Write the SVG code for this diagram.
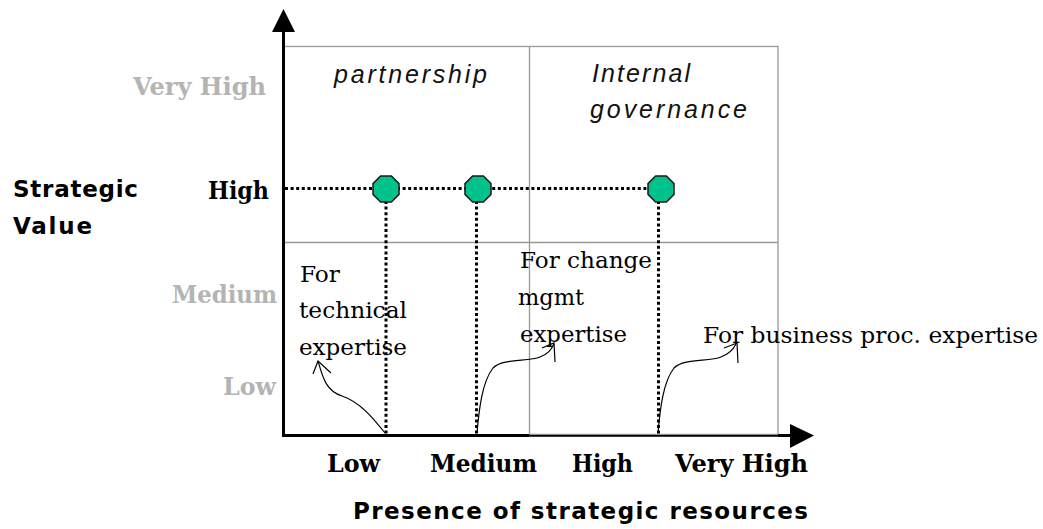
<svg xmlns="http://www.w3.org/2000/svg" xmlns:xlink="http://www.w3.org/1999/xlink" width="1043" height="529" viewBox="0 0 1043 529">
<style>
.bg{fill:#ffffff}
.grid{fill:none;stroke:#999999;stroke-width:1.3}
.axis{stroke:#000000;stroke-width:3;fill:none}
.head{fill:#000000}
.dot{stroke:#000000;stroke-width:3;stroke-dasharray:3 2.6;fill:none}
.node{fill:#00c28c;stroke:#1a1a1a;stroke-width:1.5}
.curve{fill:none;stroke:#000000;stroke-width:1.2}
.lvl{font-family:"DejaVu Serif","Liberation Serif",serif;font-weight:bold;font-size:25px}
.gray{fill:#b4b4b4}
.blk{fill:#000000}
.ttl{font-family:"DejaVu Sans","Liberation Sans",sans-serif;font-weight:bold;font-size:23px;fill:#000}
.quad{font-family:"Liberation Sans",Arial,sans-serif;font-style:italic;font-size:25px;fill:#111}
.note{font-family:"DejaVu Serif","Liberation Serif",serif;font-size:23px;fill:#000}
</style>
<defs>
<polygon id="oct" points="-5.4,-13 5.4,-13 13,-5.4 13,5.4 5.4,13 -5.4,13 -13,5.4 -13,-5.4"/>
</defs>
<rect class="bg" x="0" y="0" width="1043" height="529"/>

<g id="grid">
<rect class="grid" x="283.5" y="46.5" width="494.5" height="389"/>
<line class="grid" x1="529.5" y1="46" x2="529.5" y2="435"/>
<line class="grid" x1="283" y1="242.5" x2="778" y2="242.5"/>
</g>

<g id="axes">
<line class="axis" x1="283.5" y1="28" x2="283.5" y2="437"/>
<polygon class="head" points="283.5,9 272,32 295,32"/>
<line class="axis" x1="282" y1="435.5" x2="529" y2="435.5"/>
<line x1="529" y1="435.8" x2="778" y2="435.8" stroke="#000" stroke-width="2"/>
<line x1="529" y1="434.3" x2="778" y2="434.3" stroke="#888" stroke-width="1"/>
<line class="axis" x1="778" y1="435.5" x2="795" y2="435.5"/>
<polygon class="head" points="790,424 814,435.5 790,448"/>
</g>

<g id="connectors">
<line class="dot" x1="285" y1="188.5" x2="650" y2="188.5"/>
<line class="dot" x1="386" y1="201" x2="386" y2="434"/>
<line class="dot" x1="476.5" y1="201" x2="476.5" y2="434"/>
<line class="dot" x1="658.5" y1="201" x2="658.5" y2="434"/>
<path class="curve" d="M385,433 C373,418 360,402 342,396 C326,391 323,378 318,361"/>
<path class="curve" d="M313,374 L318,361 L331,373"/>
<path class="curve" d="M477,433 C479,410 482,382 493,368 C503,358 528,362 540,357 C548,354 551,350 554,344"/>
<path class="curve" d="M542,348 L554,343 L555,362"/>
<path class="curve" d="M658,433 C660,410 663,382 674,368 C684,358 709,362 721,357 C729,354 733,350 736,344"/>
<path class="curve" d="M724,348 L737,343 L738,363"/>
</g>

<g id="node-low"><use xlink:href="#oct" class="node" x="386" y="189"/></g>
<g id="node-medium"><use xlink:href="#oct" class="node" x="478" y="189"/></g>
<g id="node-veryhigh"><use xlink:href="#oct" class="node" x="661" y="189"/></g>

<g id="y-labels">
<text class="lvl gray" x="133" y="95" textLength="133" lengthAdjust="spacingAndGlyphs">Very High</text>
<text class="lvl blk" x="208" y="199" textLength="61" lengthAdjust="spacingAndGlyphs">High</text>
<text class="lvl gray" x="172" y="303" textLength="105" lengthAdjust="spacingAndGlyphs">Medium</text>
<text class="lvl gray" x="223" y="395" textLength="53" lengthAdjust="spacingAndGlyphs">Low</text>
<text class="ttl" x="13" y="197" textLength="125" lengthAdjust="spacing">Strategic</text>
<text class="ttl" x="13" y="234" textLength="79" lengthAdjust="spacing">Value</text>
</g>

<g id="x-labels">
<text class="lvl blk" x="327" y="472" textLength="53" lengthAdjust="spacingAndGlyphs">Low</text>
<text class="lvl blk" x="430" y="472" textLength="107" lengthAdjust="spacingAndGlyphs">Medium</text>
<text class="lvl blk" x="572" y="472" textLength="61" lengthAdjust="spacingAndGlyphs">High</text>
<text class="lvl blk" x="675" y="472" textLength="133" lengthAdjust="spacingAndGlyphs">Very High</text>
<text class="ttl" x="353" y="519" font-size="25" textLength="455" lengthAdjust="spacing">Presence of strategic resources</text>
</g>

<g id="quadrants">
<text class="quad" x="334" y="83" textLength="153" lengthAdjust="spacing">partnership</text>
<text class="quad" x="592" y="82" textLength="98" lengthAdjust="spacing">Internal</text>
<text class="quad" x="590" y="118" textLength="157" lengthAdjust="spacing">governance</text>
</g>

<g id="notes">
<text class="note" x="300" y="282" textLength="40" lengthAdjust="spacingAndGlyphs">For</text>
<text class="note" x="299" y="318" textLength="108" lengthAdjust="spacingAndGlyphs">technical</text>
<text class="note" x="299" y="355" textLength="108" lengthAdjust="spacingAndGlyphs">expertise</text>
<text class="note" x="520" y="268" textLength="132" lengthAdjust="spacingAndGlyphs">For change</text>
<text class="note" x="518" y="305" textLength="66" lengthAdjust="spacingAndGlyphs">mgmt</text>
<text class="note" x="520" y="342" textLength="107" lengthAdjust="spacingAndGlyphs">expertise</text>
<text class="note" x="703" y="343" textLength="335" lengthAdjust="spacingAndGlyphs">For business proc. expertise</text>
</g>
</svg>
